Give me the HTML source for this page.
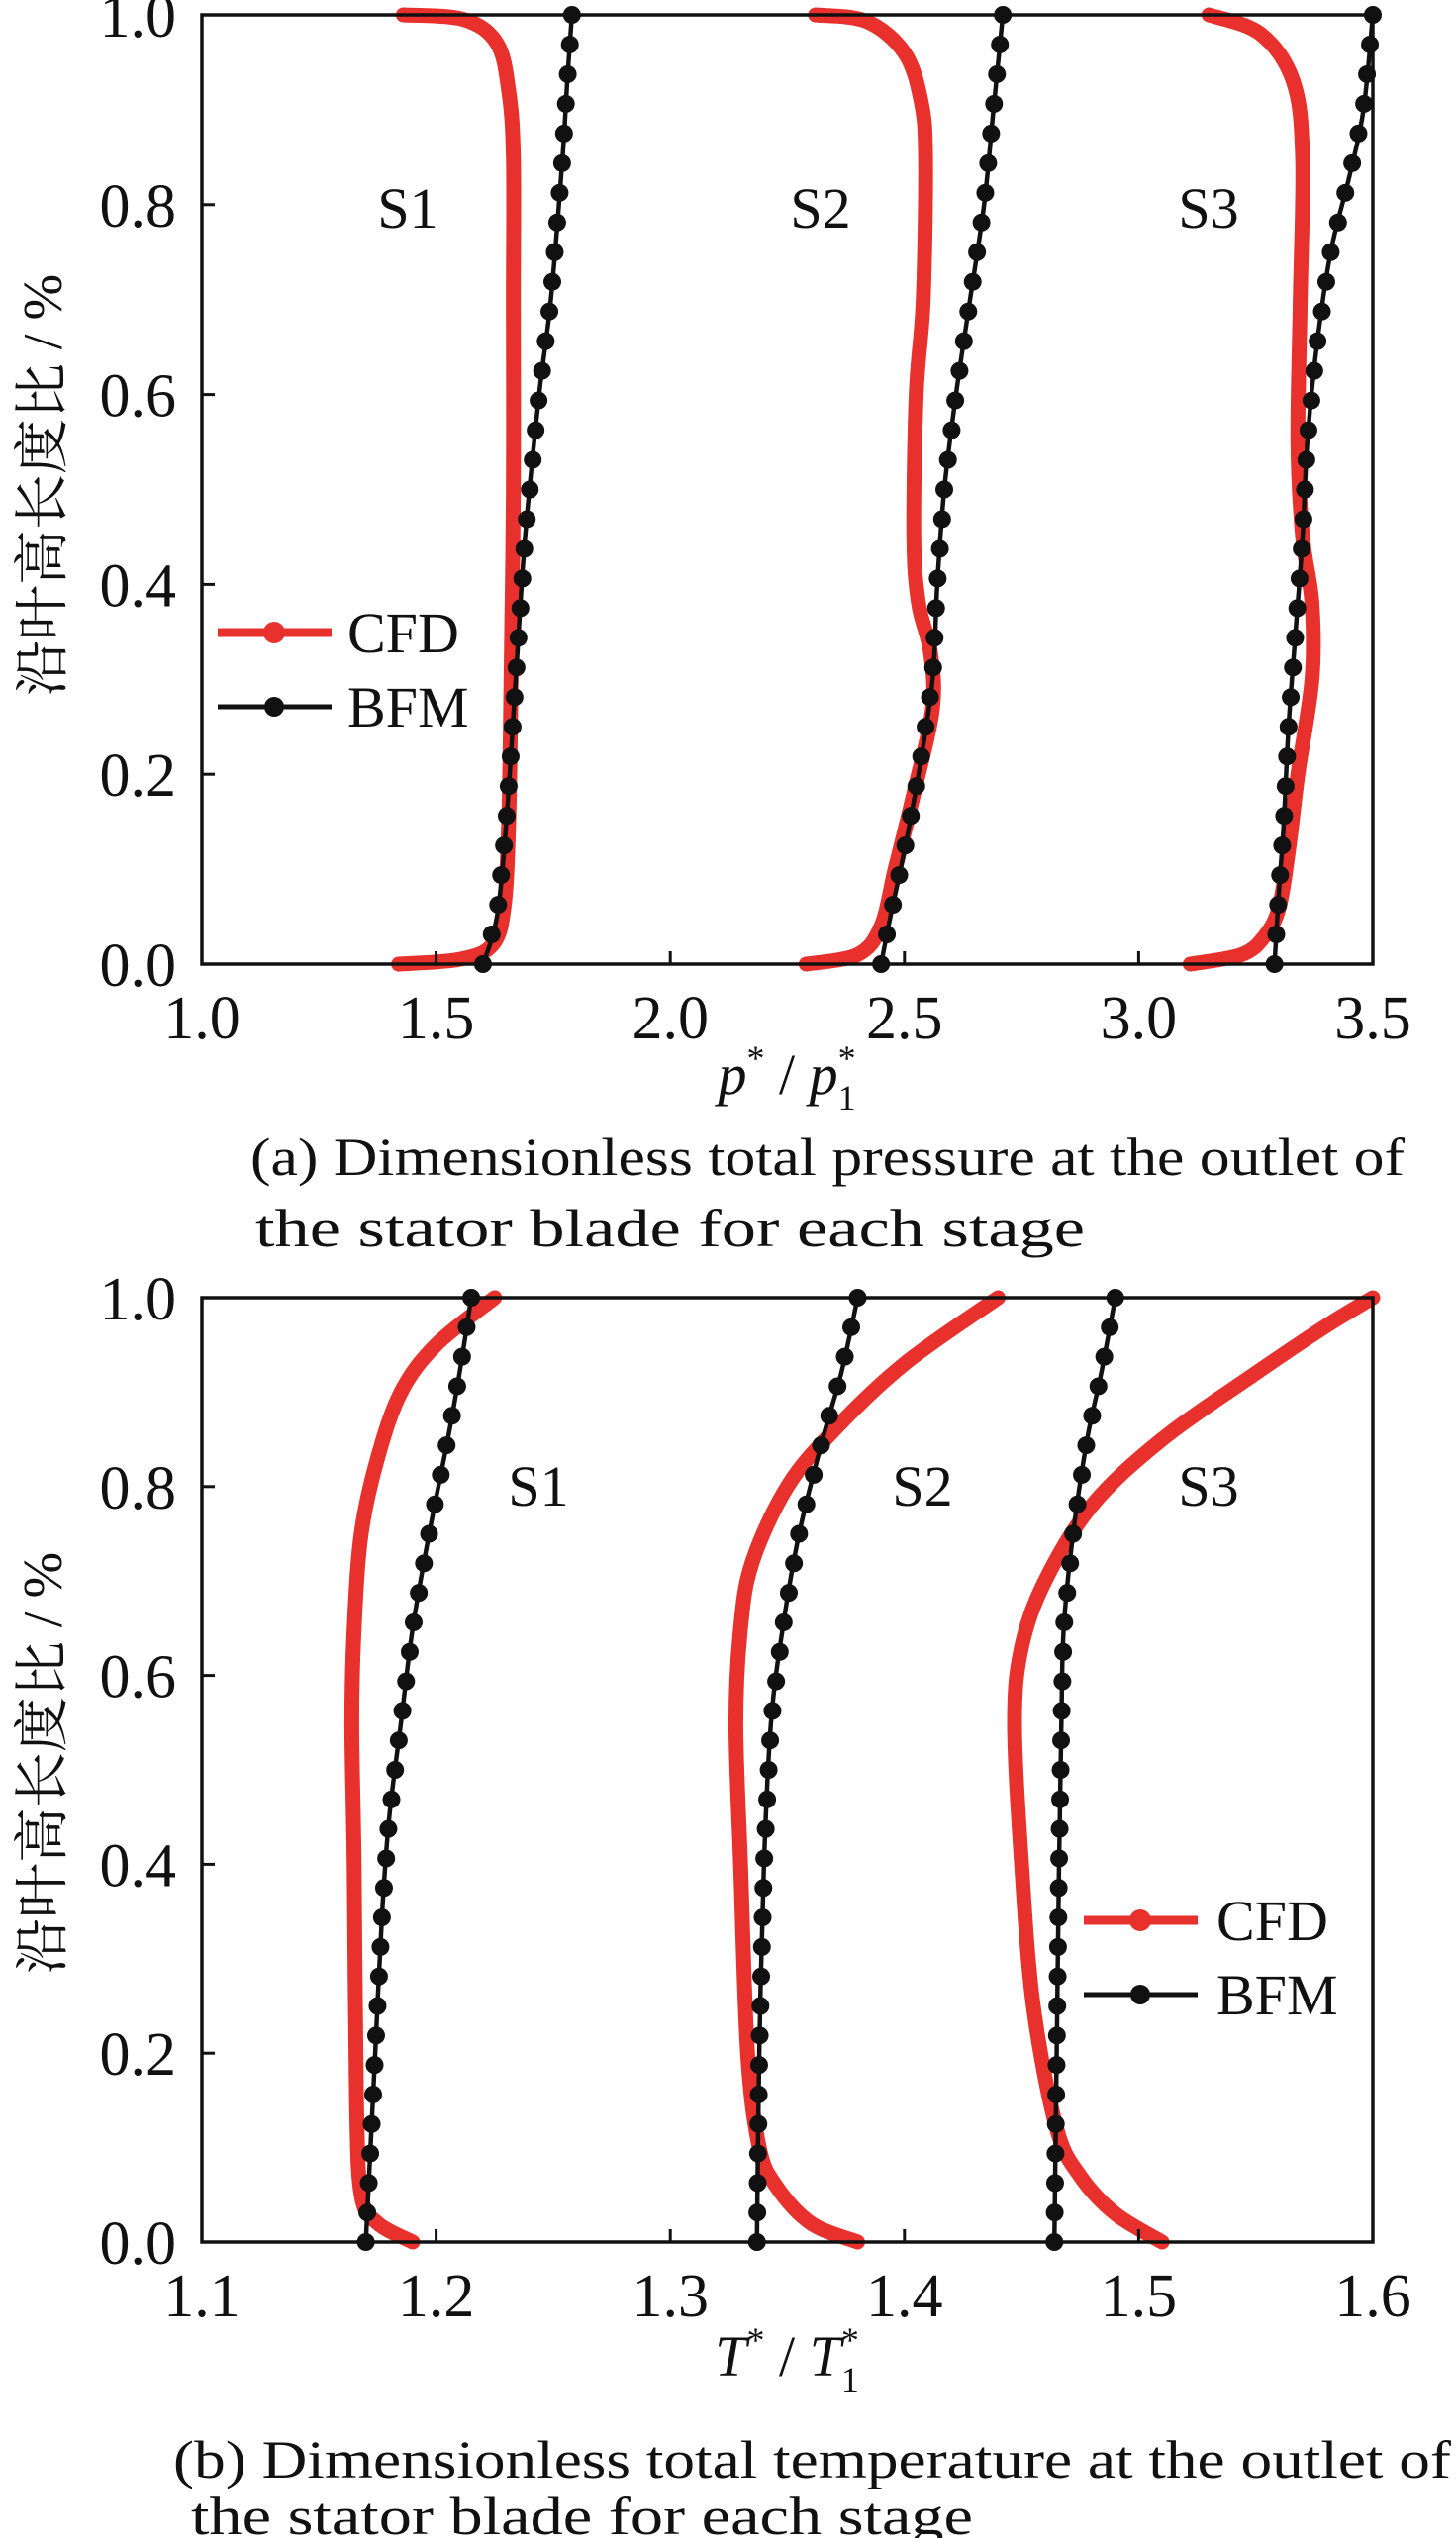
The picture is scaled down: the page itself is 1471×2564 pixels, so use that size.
<!DOCTYPE html>
<html><head><meta charset="utf-8"><style>
html,body{margin:0;padding:0;background:#fff;}
svg{display:block;}
text{font-family:"Liberation Serif","Noto Serif CJK SC",serif;fill:#111;}
</style></head><body>
<svg id="s" xmlns="http://www.w3.org/2000/svg" width="1471" height="2564" viewBox="0 0 1471 2564">
<g id="g"></g>
<text x="412" y="230" font-size="58" text-anchor="middle">S1</text>
<text x="829" y="230" font-size="58" text-anchor="middle">S2</text>
<text x="1221" y="230" font-size="58" text-anchor="middle">S3</text>
<text x="544" y="1521" font-size="58" text-anchor="middle">S1</text>
<text x="932" y="1521" font-size="58" text-anchor="middle">S2</text>
<text x="1221" y="1521" font-size="58" text-anchor="middle">S3</text>
<text x="351" y="659" font-size="58">CFD</text>
<text x="351" y="734" font-size="58">BFM</text>
<text x="1229" y="1960" font-size="58">CFD</text>
<text x="1229" y="2035" font-size="58">BFM</text>
<text x="0" y="0" font-size="56" text-anchor="middle" transform="translate(62,490) rotate(-90)">沿叶高长度比 / %</text>
<text x="0" y="0" font-size="56" text-anchor="middle" transform="translate(62,1781) rotate(-90)">沿叶高长度比 / %</text>
<text x="795" y="1105" font-size="58" text-anchor="middle"><tspan font-style="italic">p</tspan><tspan font-size="36" dy="-24">*</tspan><tspan dy="24"> / </tspan><tspan font-style="italic">p</tspan><tspan font-size="36" dy="-24">*</tspan><tspan font-size="36" dx="-18" dy="40">1</tspan></text>
<text x="795" y="2400" font-size="58" text-anchor="middle"><tspan font-style="italic">T</tspan><tspan font-size="36" dy="-24">*</tspan><tspan dy="24"> / </tspan><tspan font-style="italic">T</tspan><tspan font-size="36" dy="-24">*</tspan><tspan font-size="36" dx="-18" dy="40">1</tspan></text>
<text x="253" y="1187" font-size="54" textLength="1166" lengthAdjust="spacingAndGlyphs">(a) Dimensionless total pressure at the outlet of</text>
<text x="258" y="1259" font-size="54" textLength="838" lengthAdjust="spacingAndGlyphs">the stator blade for each stage</text>
<text x="175" y="2503" font-size="54" textLength="1291" lengthAdjust="spacingAndGlyphs">(b) Dimensionless total temperature at the outlet of</text>
<text x="193" y="2560" font-size="54" textLength="790" lengthAdjust="spacingAndGlyphs">the stator blade for each stage</text>
</svg>
<script>
var NS="http://www.w3.org/2000/svg",G=document.getElementById("g");
function el(n,a){var e=document.createElementNS(NS,n);for(var k in a)e.setAttribute(k,a[k]);G.appendChild(e);return e;}
function txt(x,y,s,anchor){var e=el("text",{x:x,y:y,"font-size":62,"text-anchor":anchor});e.textContent=s;}
function smooth(P){var d="M"+P[0][0]+","+P[0][1];
 for(var i=0;i<P.length-1;i++){var p0=P[i-1]||P[i],p1=P[i],p2=P[i+1],p3=P[i+2]||P[i+1];
  var c1=[p1[0]+(p2[0]-p0[0])/6,p1[1]+(p2[1]-p0[1])/6],c2=[p2[0]-(p3[0]-p1[0])/6,p2[1]-(p3[1]-p1[1])/6];
  d+=" C"+c1[0]+","+c1[1]+" "+c2[0]+","+c2[1]+" "+p2[0]+","+p2[1];}
 return d;}
var L=204,R=1387;
function panel(top,bot,x0,x1,xt,xlabels,cfd,bfm,leg){
 var fx=function(v){return L+(v-x0)/(x1-x0)*(R-L);},fy=function(h){return bot-h*(bot-top);};
 cfd.forEach(function(c){el("path",{d:smooth(c.map(function(p){return [fx(p[0]),fy(p[1])];})),fill:"none",stroke:"#e8302c","stroke-width":15,"stroke-linejoin":"round","stroke-linecap":"round"});});
 bfm.forEach(function(c){
  el("path",{d:smooth(c.map(function(p){return [fx(p[0]),fy(p[1])];})),fill:"none",stroke:"#111","stroke-width":4.5});
  for(var i=0;i<=32;i++){var h=i/32,v=c[0][0];
   for(var j=0;j<c.length-1;j++){if(h>=c[j][1]&&h<=c[j+1][1]){var t=(h-c[j][1])/(c[j+1][1]-c[j][1]);v=c[j][0]+t*(c[j+1][0]-c[j][0]);break;}}
   el("circle",{cx:fx(v),cy:fy(h),r:9,fill:"#111"});}
 });
 el("rect",{x:L,y:top,width:R-L,height:bot-top,fill:"none",stroke:"#111","stroke-width":3.5});
 for(var i=0;i<=5;i++){var y=fy(i/5);el("line",{x1:L,y1:y,x2:L+13,y2:y,stroke:"#111","stroke-width":3});
  txt(178,y+22,(i/5).toFixed(1),"end");}
 xt.forEach(function(v,i){var x=fx(v);el("line",{x1:x,y1:bot,x2:x,y2:bot-13,stroke:"#111","stroke-width":3});txt(x,bot+75,xlabels[i],"middle");});
 el("line",{x1:leg[0],y1:leg[1],x2:leg[0]+115,y2:leg[1],stroke:"#e8302c","stroke-width":9});
 el("circle",{cx:leg[0]+57,cy:leg[1],r:11,fill:"#e8302c"});
 el("line",{x1:leg[0],y1:leg[1]+75,x2:leg[0]+115,y2:leg[1]+75,stroke:"#111","stroke-width":5});
 el("circle",{cx:leg[0]+57,cy:leg[1]+75,r:10,fill:"#111"});
}
panel(15,974,1.0,3.5,[1,1.5,2,2.5,3,3.5],["1.0","1.5","2.0","2.5","3.0","3.5"],
[[[1.42,0],[1.55,0.005],[1.62,0.02],[1.645,0.06],[1.655,0.15],[1.66,0.3],[1.665,0.5],[1.665,0.7],[1.665,0.85],[1.655,0.92],[1.63,0.97],[1.56,0.995],[1.43,1.0]],
 [[2.29,0],[2.40,0.01],[2.45,0.04],[2.48,0.1],[2.52,0.18],[2.56,0.27],[2.555,0.33],[2.53,0.38],[2.52,0.45],[2.525,0.6],[2.54,0.7],[2.545,0.85],[2.535,0.91],[2.50,0.96],[2.42,0.993],[2.31,1.0]],
 [[3.11,0],[3.22,0.01],[3.27,0.03],[3.30,0.06],[3.32,0.12],[3.34,0.2],[3.37,0.3],[3.37,0.38],[3.35,0.45],[3.34,0.55],[3.345,0.7],[3.35,0.85],[3.33,0.93],[3.26,0.98],[3.15,1.0]]],
[[[1.60,0],[1.63,0.05],[1.65,0.15],[1.67,0.3],[1.69,0.45],[1.72,0.6],[1.745,0.7],[1.77,0.85],[1.78,0.93],[1.79,1.0]],
 [[2.45,0],[2.47,0.05],[2.50,0.12],[2.53,0.2],[2.56,0.3],[2.57,0.4],[2.585,0.5],[2.61,0.6],[2.64,0.7],[2.67,0.8],[2.69,0.9],[2.71,1.0]],
 [[3.29,0],[3.30,0.08],[3.31,0.15],[3.32,0.25],[3.335,0.35],[3.35,0.45],[3.36,0.55],[3.38,0.65],[3.41,0.75],[3.45,0.83],[3.48,0.9],[3.50,1.0]]],
[220,639]);
panel(1311,2265,1.1,1.6,[1.1,1.2,1.3,1.4,1.5,1.6],["1.1","1.2","1.3","1.4","1.5","1.6"],
[[[1.19,0],[1.175,0.02],[1.168,0.05],[1.166,0.15],[1.165,0.4],[1.164,0.55],[1.165,0.65],[1.168,0.75],[1.175,0.83],[1.185,0.9],[1.20,0.95],[1.225,1.0]],
 [[1.38,0],[1.36,0.02],[1.345,0.06],[1.338,0.1],[1.333,0.2],[1.330,0.4],[1.328,0.55],[1.330,0.65],[1.335,0.72],[1.35,0.8],[1.37,0.86],[1.40,0.93],[1.44,1.0]],
 [[1.51,0],[1.49,0.03],[1.475,0.07],[1.465,0.12],[1.455,0.25],[1.450,0.4],[1.447,0.55],[1.450,0.63],[1.46,0.7],[1.48,0.78],[1.51,0.85],[1.55,0.92],[1.58,0.97],[1.60,1.0]]],
[[[1.170,0],[1.172,0.1],[1.174,0.2],[1.177,0.35],[1.180,0.45],[1.185,0.55],[1.190,0.65],[1.197,0.75],[1.205,0.85],[1.210,0.92],[1.215,1.0]],
 [[1.337,0],[1.338,0.2],[1.340,0.4],[1.343,0.55],[1.348,0.65],[1.355,0.75],[1.365,0.85],[1.373,0.92],[1.380,1.0]],
 [[1.464,0],[1.465,0.2],[1.466,0.4],[1.467,0.55],[1.468,0.65],[1.472,0.75],[1.478,0.85],[1.484,0.92],[1.490,1.0]]],
[1095,1940]);
</script>
</body></html>
